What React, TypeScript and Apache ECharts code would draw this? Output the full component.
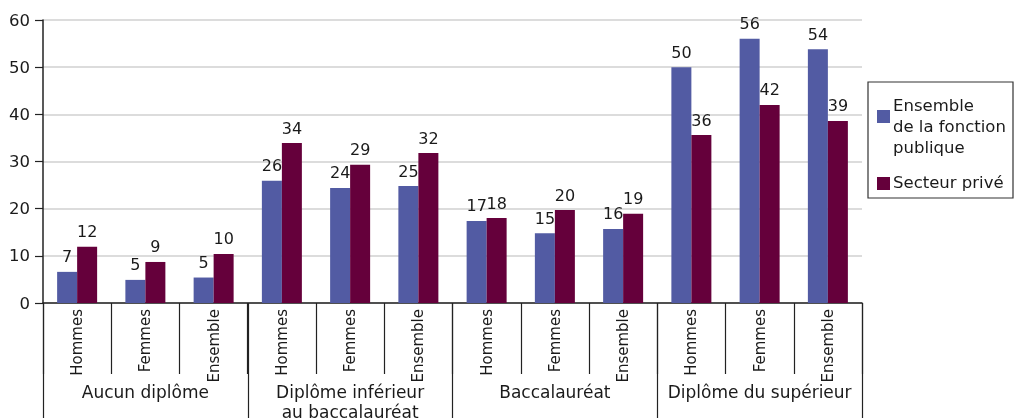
import React, { useEffect, useRef } from "react";
import * as echarts from "echarts";

const groups = ["Aucun diplôme", "Diplôme inférieur\nau baccalauréat", "Baccalauréat", "Diplôme du supérieur"];
const subCategories = ["Hommes", "Femmes", "Ensemble"];
const seriesNames = ["Ensemble de la fonction publique", "Secteur privé"];
const legendLines = [["Ensemble", "de la fonction", "publique"], ["Secteur privé"]];
const publicValues = [6.6, 4.9, 5.4, 25.9, 24.4, 24.8, 17.4, 14.8, 15.7, 50.0, 56.0, 53.8];
const priveValues = [11.9, 8.7, 10.4, 33.9, 29.3, 31.8, 18.0, 19.7, 18.9, 35.6, 42.0, 38.6];
const yTicks = { min: 0, max: 60, interval: 10 };
const colors = ["#525ba3", "#65003b"];

const FONT = "'DejaVu Sans', sans-serif";

export default function App() {
  const ref = useRef<HTMLDivElement>(null);
  useEffect(() => {
    if (!ref.current) return;
    const chart = echarts.init(ref.current, undefined, { renderer: "svg" });
    const cats: string[] = [];
    groups.forEach(() => subCategories.forEach((s) => cats.push(s)));
    const labelStyle = {
      show: true,
      position: "top" as const,
      distance: 7,
      fontSize: 16,
      color: "#1a1a1a",
      fontFamily: FONT,
      formatter: (p: any) => String(Math.round(p.value)),
    };
    const legendGraphics: any[] = [
      {
        type: "rect",
        shape: { x: 868, y: 82, width: 145, height: 116 },
        style: { fill: "#fff", stroke: "#333", lineWidth: 1.2 },
      },
      { type: "rect", shape: { x: 877, y: 110, width: 13, height: 13 }, style: { fill: colors[0] } },
      { type: "rect", shape: { x: 877, y: 177, width: 13, height: 13 }, style: { fill: colors[1] } },
    ];
    const legendTop = [97, 174];
    legendLines.forEach((lines, si) => {
      lines.forEach((t, li) => {
        legendGraphics.push({
          type: "text",
          x: 893,
          y: legendTop[si] + li * 21,
          style: { text: t, fontSize: 16.5, fill: "#1a1a1a", fontFamily: FONT, textVerticalAlign: "top" },
        });
      });
    });
    chart.setOption({
      animation: false,
      textStyle: { fontFamily: FONT },
      grid: { left: 43, top: 20, right: 155, bottom: 115, containLabel: false, outerBoundsMode: "none" },
      xAxis: [
        {
          type: "category",
          data: cats,
          position: "bottom",
          axisLine: { show: true, lineStyle: { color: "#222", width: 1.5 } },
          axisTick: { show: true, interval: 0, length: 71, lineStyle: { color: "#222", width: 1.2 } },
          axisLabel: { interval: 0, rotate: 90, margin: 6, fontSize: 15, color: "#1a1a1a", fontFamily: FONT },
        },
        {
          type: "category",
          data: groups,
          position: "bottom",
          axisLine: { show: false },
          axisTick: { show: true, interval: 0, length: 118, lineStyle: { color: "#222", width: 1.2 } },
          axisLabel: { interval: 0, margin: 79, fontSize: 17, lineHeight: 20, color: "#1a1a1a", fontFamily: FONT },
        },
      ],
      yAxis: {
        type: "value",
        min: yTicks.min,
        max: yTicks.max,
        interval: yTicks.interval,
        axisLine: { show: true, lineStyle: { color: "#222", width: 1.5 } },
        axisTick: { show: true, length: 8, lineStyle: { color: "#222", width: 1.2 } },
        axisLabel: { fontSize: 16.5, color: "#1a1a1a", margin: 13, fontFamily: FONT },
        splitLine: { show: true, lineStyle: { color: "#dcdcdc", width: 2 } },
      },
      series: [
        {
          name: seriesNames[0],
          type: "bar",
          xAxisIndex: 0,
          data: publicValues,
          barWidth: 20,
          barGap: "0%",
          itemStyle: { color: colors[0] },
          label: labelStyle,
        },
        {
          name: seriesNames[1],
          type: "bar",
          xAxisIndex: 0,
          data: priveValues,
          barWidth: 20,
          barGap: "0%",
          itemStyle: { color: colors[1] },
          label: labelStyle,
        },
      ],
      graphic: legendGraphics,
    });
    return () => chart.dispose();
  }, []);
  return <div ref={ref} style={{ position: "fixed", left: 0, top: 0, width: 1017, height: 418 }} />;
}
